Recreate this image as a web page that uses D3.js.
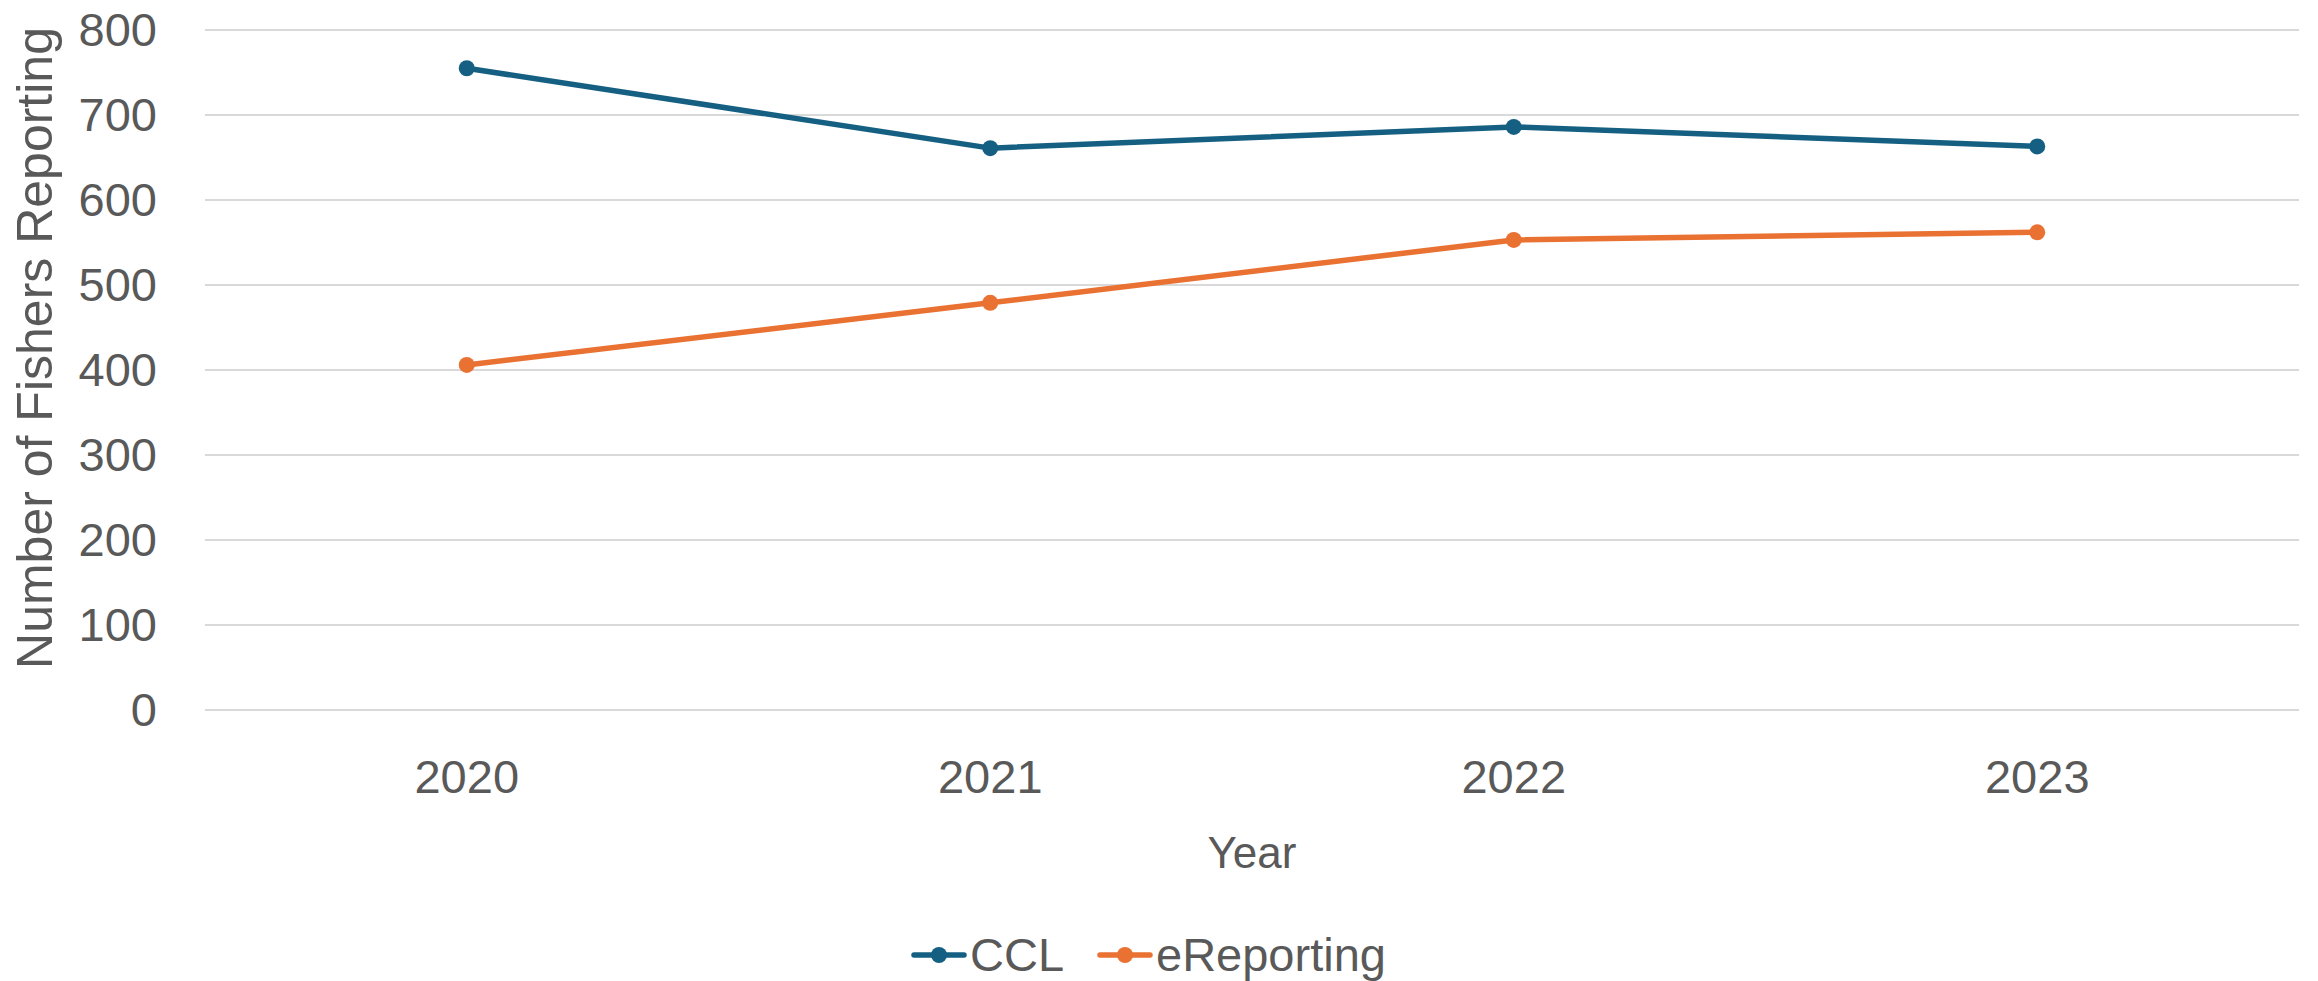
<!DOCTYPE html>
<html>
<head>
<meta charset="utf-8">
<script src="https://cdn.jsdelivr.net/npm/d3@7"></script>
<style>
  html, body { margin: 0; padding: 0; background: #fff; overflow: hidden; }
  svg { display: block; font-family: "Liberation Sans", Arial, sans-serif; }
</style>
</head>
<body>
<svg id="chart" width="2318" height="981"></svg>
<script>
// data
const years = ["2020", "2021", "2022", "2023"];
const cclValues = [755, 661, 686, 663];
const eReportingValues = [406, 479, 553, 562];
const yTicks = [0, 100, 200, 300, 400, 500, 600, 700, 800];
const seriesNames = ["CCL", "eReporting"];
const seriesColors = ["#156082", "#E97132"];

const svg = d3.select("#chart");
const width = 2318;
const height = 981;
const margin = { top: 30, right: 19, bottom: 271, left: 205 };
const innerWidth = width - margin.left - margin.right;
const innerHeight = height - margin.top - margin.bottom;
const textColor = "#595959";

svg.append("rect").attr("width", width).attr("height", height).attr("fill", "#fff");

const g = svg.append("g").attr("transform", `translate(${margin.left},${margin.top})`);

const x = d3.scaleBand().domain(years).range([0, innerWidth]);
const y = d3.scaleLinear().domain([0, 800]).range([innerHeight, 0]);

// gridlines
g.append("g")
    .selectAll("line")
    .data(yTicks)
    .join("line")
    .attr("x1", 0)
    .attr("x2", innerWidth)
    .attr("y1", d => y(d))
    .attr("y2", d => y(d))
    .attr("stroke", "#d9d9d9")
    .attr("stroke-width", 2);

// y axis (labels only)
const yAxis = g.append("g")
    .call(d3.axisLeft(y).tickValues(yTicks).tickSize(0).tickPadding(48));
yAxis.select(".domain").remove();
yAxis.selectAll("text")
    .attr("fill", textColor)
    .style("font-size", "47px")
    .style("font-family", "Liberation Sans, Arial, sans-serif");

// x axis (labels only)
const xAxis = g.append("g")
    .attr("transform", `translate(0,${innerHeight})`)
    .call(d3.axisBottom(x).tickSize(0).tickPadding(50));
xAxis.select(".domain").remove();
xAxis.selectAll("text")
    .attr("fill", textColor)
    .style("font-size", "47px")
    .style("font-family", "Liberation Sans, Arial, sans-serif");

// axis titles
svg.append("text")
    .attr("x", margin.left + innerWidth / 2)
    .attr("y", 868)
    .attr("text-anchor", "middle")
    .attr("fill", textColor)
    .style("font-size", "44px")
    .text("Year");

svg.append("text")
    .attr("transform", `translate(52, 348) rotate(-90)`)
    .attr("text-anchor", "middle")
    .attr("fill", textColor)
    .style("font-size", "50px")
    .text("Number of Fishers Reporting");

// lines + markers
const series = [cclValues, eReportingValues];
const line = d3.line()
    .x((d, i) => x(years[i]) + x.bandwidth() / 2)
    .y(d => y(d));

series.forEach((values, s) => {
    g.append("path")
        .datum(values)
        .attr("fill", "none")
        .attr("stroke", seriesColors[s])
        .attr("stroke-width", 5.5)
        .attr("stroke-linejoin", "round")
        .attr("d", line);

    g.selectAll(`.dot-${s}`)
        .data(values)
        .join("circle")
        .attr("class", `dot-${s}`)
        .attr("cx", (d, i) => x(years[i]) + x.bandwidth() / 2)
        .attr("cy", d => y(d))
        .attr("r", 8)
        .attr("fill", seriesColors[s]);
});

// legend
const legendX = [914, 1100];
const legend = svg.append("g").attr("transform", "translate(0,955)");
seriesNames.forEach((name, i) => {
    const lg = legend.append("g").attr("transform", `translate(${legendX[i]},0)`);
    lg.append("line")
        .attr("x1", 0).attr("x2", 50)
        .attr("y1", 0).attr("y2", 0)
        .attr("stroke", seriesColors[i])
        .attr("stroke-width", 5.5)
        .attr("stroke-linecap", "round");
    lg.append("circle").attr("cx", 25).attr("cy", 0).attr("r", 8).attr("fill", seriesColors[i]);
    lg.append("text")
        .attr("x", 56)
        .attr("y", 16)
        .attr("fill", textColor)
        .style("font-size", "47px")
        .text(name);
});
</script>
</body>
</html>
